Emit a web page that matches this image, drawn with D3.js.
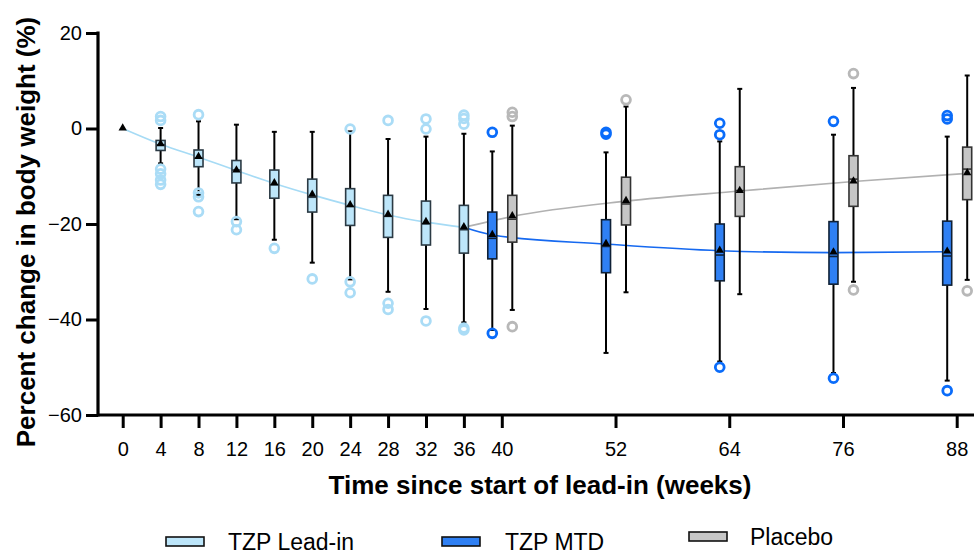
<!DOCTYPE html>
<html>
<head>
<meta charset="utf-8">
<script src="https://cdn.jsdelivr.net/npm/d3@7"></script>
<style>
  body { margin: 0; background: #fff; }
  text { font-family: Arial, "Liberation Sans", sans-serif; fill: #000; }
</style>
</head>
<body>
<div id="chart"></div>
<script>
//-------------------DATA------------------------------------------------------
// weeks on the x axis
var xTicks = [0, 4, 8, 12, 16, 20, 24, 28, 32, 36, 40, 52, 64, 76, 88];
var yTicks = [20, 0, -20, -40, -60];

// TZP lead-in (mean line starts at week 0)
var leadMeanWeeks = [0, 4, 8, 12, 16, 20, 24, 28, 32, 36];
var leadMean      = [0, -3.3, -6.0, -8.8, -11.5, -13.9, -16.1, -18.1, -19.6, -20.7];
var leadWeeks  = [4, 8, 12, 16, 20, 24, 28, 32, 36];
var leadLow    = [-7.3, -13.9, -19.0, -23.3, -28.1, -31.6, -34.2, -37.8, -40.6];
var leadQ1     = [-4.6, -8.0, -11.4, -14.6, -17.5, -20.3, -22.8, -24.4, -26.1];
var leadMedian = [-3.4, -6.2, -8.7, -11.8, -14.4, -16.3, -18.4, -20.0, -21.2];
var leadQ3     = [-2.5, -4.5, -6.7, -8.7, -10.6, -12.6, -14.0, -15.2, -16.1];
var leadHigh   = [0.1, 1.5, 0.8, -0.7, -0.7, -0.6, -2.2, -1.7, -1.1];
var leadOut    = [[2.5, 1.7, -8.5, -9.5, -10.8, -11.7], [2.9, -13.5, -14.3, -17.4],
                  [-19.5, -21.2], [-25.1], [-31.5], [-0.1, -32.1, -34.4],
                  [1.7, -36.6, -37.9], [2.0, -0.1, -40.3], [2.8, 2.1, 0.9, -41.8, -42.2]];

// TZP MTD
var mtdWeeks  = [40, 52, 64, 76, 88];
var mtdMean   = [-22.3, -24.2, -25.6, -26.0, -25.8];
var mtdLow    = [-42.2, -47.0, -48.8, -51.2, -52.8];
var mtdQ1     = [-27.3, -30.2, -31.9, -32.6, -32.8];
var mtdMedian = [-23.0, -24.7, -26.5, -26.8, -26.7];
var mtdQ3     = [-17.5, -19.1, -20.0, -19.5, -19.4];
var mtdHigh   = [-4.8, -5.0, -2.7, -1.3, -1.7];
var mtdOut    = [[-0.8, -42.9], [-0.8, -1.2], [1.1, -1.3, -50.0], [1.5, -52.3], [2.7, 2.0, -54.9]];

// Placebo
var plaWeeks  = [40, 52, 64, 76, 88];
var plaMean   = [-18.4, -15.2, -13.1, -11.1, -9.4];
var plaLow    = [-38.0, -34.3, -34.7, -32.1, -31.7];
var plaQ1     = [-23.8, -20.2, -18.4, -16.3, -14.9];
var plaMedian = [-19.0, -15.8, -13.0, -10.6, -8.5];
var plaQ3     = [-14.0, -10.2, -8.0, -5.7, -3.9];
var plaHigh   = [0.6, 4.6, 8.3, 8.5, 11.1];
var plaOut    = [[3.4, 2.5, -41.5], [6.0], [], [11.5, -33.8], [-34.0]];

//-------------------SET-UP----------------------------------------------------
var width = 974;
var height = 555;

var xScale = d3.scaleLinear().domain([0, 88]).range([122.7, 956.7]);
var yScale = d3.scaleLinear().domain([-60, 20]).range([415, 33]);

var svg = d3.select("#chart")
    .append("svg")
    .attr("width", width)
    .attr("height", height);

var series = [
    { name: "TZP Lead-in", weeks: leadWeeks, low: leadLow, q1: leadQ1, med: leadMedian, q3: leadQ3, high: leadHigh, mean: leadMean.slice(1), out: leadOut,
      shift: 0, fill: "#bde6fa", stroke: "#2b3a44", outColor: "#aadcf6", lineColor: "#a6dbf5" },
    { name: "TZP MTD", weeks: mtdWeeks, low: mtdLow, q1: mtdQ1, med: mtdMedian, q3: mtdQ3, high: mtdHigh, mean: mtdMean, out: mtdOut,
      shift: -9.5, fill: "#2f80f4", stroke: "#0f2036", outColor: "#0a6cfa", lineColor: "#1669f0" },
    { name: "Placebo", weeks: plaWeeks, low: plaLow, q1: plaQ1, med: plaMedian, q3: plaQ3, high: plaHigh, mean: plaMean, out: plaOut,
      shift: 10.5, fill: "#c6c6c6", stroke: "#333333", outColor: "#b8b8b8", lineColor: "#b1b1b1" }
];

//-------------------MEAN LINES------------------------------------------------
var line = d3.line()
    .x(function(d) { return d[0]; })
    .y(function(d) { return yScale(d[1]); })
    .curve(d3.curveMonotoneX);

var leadPts = leadMeanWeeks.map(function(w, i) { return [xScale(w), leadMean[i]]; });
var start = leadPts[leadPts.length - 1];

svg.append("path")
    .attr("d", line(leadPts))
    .attr("fill", "none")
    .attr("stroke", series[0].lineColor)
    .attr("stroke-width", 1.6);

[series[1], series[2]].forEach(function(s) {
    var pts = [start].concat(s.weeks.map(function(w, i) { return [xScale(w) + s.shift, s.mean[i]]; }));
    svg.append("path")
        .attr("d", line(pts))
        .attr("fill", "none")
        .attr("stroke", s.lineColor)
        .attr("stroke-width", 1.6);
});

//-------------------BOXES------------------------------------------------------
var boxW = 9;
var capW = 5;

series.forEach(function(s) {
    var g = svg.append("g");
    var rows = s.weeks.map(function(w, i) {
        return { x: xScale(w) + s.shift, low: s.low[i], q1: s.q1[i], med: s.med[i], q3: s.q3[i], high: s.high[i], mean: s.mean[i], out: s.out[i] };
    });

    // whiskers
    g.selectAll(".whisker")
        .data(rows)
        .enter()
        .append("line")
        .attr("x1", function(d) { return d.x; })
        .attr("x2", function(d) { return d.x; })
        .attr("y1", function(d) { return yScale(d.high); })
        .attr("y2", function(d) { return yScale(d.low); })
        .attr("stroke", "#000")
        .attr("stroke-width", 2);

    // caps
    ["high", "low"].forEach(function(k) {
        g.selectAll(".cap-" + k)
            .data(rows)
            .enter()
            .append("line")
            .attr("x1", function(d) { return d.x - capW / 2; })
            .attr("x2", function(d) { return d.x + capW / 2; })
            .attr("y1", function(d) { return yScale(d[k]); })
            .attr("y2", function(d) { return yScale(d[k]); })
            .attr("stroke", "#000")
            .attr("stroke-width", 2);
    });

    // box
    g.selectAll("rect")
        .data(rows)
        .enter()
        .append("rect")
        .attr("x", function(d) { return d.x - boxW / 2; })
        .attr("y", function(d) { return yScale(d.q3); })
        .attr("width", boxW)
        .attr("height", function(d) { return yScale(d.q1) - yScale(d.q3); })
        .attr("fill", s.fill)
        .attr("stroke", s.stroke)
        .attr("stroke-width", 1.6);

    // median
    g.selectAll(".median")
        .data(rows)
        .enter()
        .append("line")
        .attr("x1", function(d) { return d.x - boxW / 2; })
        .attr("x2", function(d) { return d.x + boxW / 2; })
        .attr("y1", function(d) { return yScale(d.med); })
        .attr("y2", function(d) { return yScale(d.med); })
        .attr("stroke", s.stroke)
        .attr("stroke-width", 1.6);

    // outliers
    rows.forEach(function(d) {
        g.selectAll(null)
            .data(d.out)
            .enter()
            .append("circle")
            .attr("cx", d.x)
            .attr("cy", function(v) { return yScale(v); })
            .attr("r", 4.4)
            .attr("fill", "none")
            .attr("stroke", s.outColor)
            .attr("stroke-width", 2.8);
    });
});

//-------------------MEAN TRIANGLES--------------------------------------------
var tri = d3.symbol().type(d3.symbolTriangle).size(30);
var meanPts = leadPts.slice();
series.slice(1).forEach(function(s) {
    s.weeks.forEach(function(w, i) { meanPts.push([xScale(w) + s.shift, s.mean[i]]); });
});

svg.selectAll(".mean")
    .data(meanPts)
    .enter()
    .append("path")
    .attr("d", tri)
    .attr("transform", function(d) { return "translate(" + d[0] + "," + (yScale(d[1]) - 0.5) + ")"; })
    .attr("fill", "#000");

//-------------------AXES------------------------------------------------------
var xAxis = d3.axisBottom(xScale).tickValues(xTicks).tickSize(13).tickSizeOuter(0).tickPadding(14);
var yAxis = d3.axisLeft(yScale).tickValues(yTicks).tickSize(12).tickSizeOuter(0).tickPadding(4);

var gx = svg.append("g")
    .attr("transform", "translate(0,415)")
    .call(xAxis);
gx.select(".domain").attr("d", "M97,0H974").attr("stroke-width", 3.2);

var gy = svg.append("g")
    .attr("transform", "translate(98,0)")
    .call(yAxis);
gy.select(".domain").attr("d", "M0,31.5V416.5").attr("stroke-width", 3.2);

svg.selectAll(".tick line").attr("stroke", "#000").attr("stroke-width", 3);
svg.selectAll(".tick text")
    .style("font-size", "20px")
    .style("font-family", "Arial, 'Liberation Sans', sans-serif")
    .attr("fill", "#000");

// axis titles
svg.append("text")
    .attr("x", 540)
    .attr("y", 494)
    .attr("text-anchor", "middle")
    .style("font-size", "26px")
    .style("font-weight", "bold")
    .text("Time since start of lead-in (weeks)");

svg.append("text")
    .attr("transform", "translate(35,232) rotate(-90)")
    .attr("text-anchor", "middle")
    .style("font-size", "26px")
    .style("font-weight", "bold")
    .text("Percent change in body weight (%)");

//-------------------LEGEND----------------------------------------------------
var legendX = [166, 442, 689];
var legendY = [537, 537, 532];
var legendTextX = [228, 505, 750];

series.forEach(function(s, i) {
    svg.append("rect")
        .attr("x", legendX[i])
        .attr("y", legendY[i])
        .attr("width", 38)
        .attr("height", 9)
        .attr("fill", s.fill)
        .attr("stroke", "#111")
        .attr("stroke-width", 1.6);
    svg.append("text")
        .attr("x", legendTextX[i])
        .attr("y", legendY[i] + 13)
        .style("font-size", "23px")
        .text(s.name);
});
</script>
</body>
</html>
